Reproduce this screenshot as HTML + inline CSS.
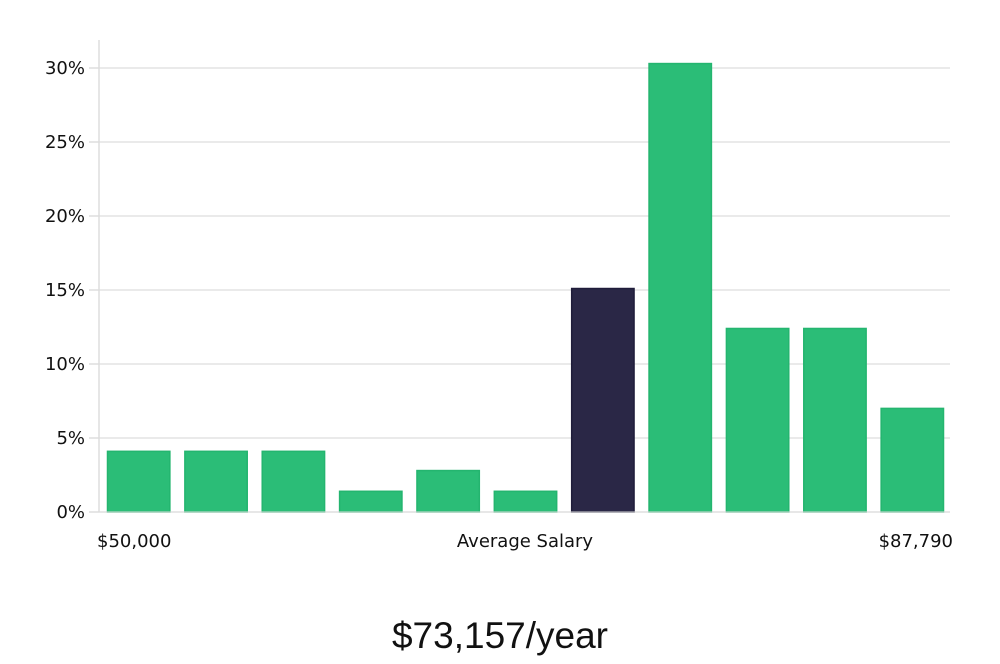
<!DOCTYPE html>
<html><head><meta charset="utf-8"><style>
body{margin:0;background:#fff;width:1000px;height:660px;overflow:hidden;font-family:"DejaVu Sans","Liberation Sans",sans-serif}
svg text{font-family:"DejaVu Sans","Liberation Sans",sans-serif;fill:#111}
</style></head><body>
<svg id="chart" width="1000" height="660" xmlns="http://www.w3.org/2000/svg"></svg>
<script>
const categories=["b1","b2","b3","b4","b5","b6","b7","b8","b9","b10","b11"];
const values=[4.1,4.1,4.1,1.4,2.8,1.4,15.1,30.3,12.4,12.4,7.0];
const highlight=[false,false,false,false,false,false,true,false,false,false,false];
const yTicks=[0,5,10,15,20,25,30];
const yTickLabels=["0%","5%","10%","15%","20%","25%","30%"];
const xLabels=["$50,000","Average Salary","$87,790"];
const title="$73,157/year";
const svg=document.getElementById('chart');
const NS="http://www.w3.org/2000/svg";
const L=99,R=950,B=512,T=68;
const y=v=>B-(v/30)*(B-T);
const band=(R-L)/categories.length;
const x=i=>L+i*band;
function mk(tag,attrs,parent){const e=document.createElementNS(NS,tag);for(const k in attrs)e.setAttribute(k,attrs[k]);(parent||svg).appendChild(e);return e;}
yTicks.forEach((t,i)=>{
 const g=mk('line',{x1:L,x2:R,y1:y(t),y2:y(t),stroke:'#e3e3e3','stroke-width':1.5});
 
 
 const tk=mk('line',{x1:89,x2:L,y1:y(t),y2:y(t),stroke:'#ddd','stroke-width':1.5});
 
 
 const tx=mk('text',{x:85,y:y(t)+6,'text-anchor':'end','font-size':18});
 tx.textContent=yTickLabels[i];
 
 
});
const ax=mk('line',{x1:L,x2:L,y1:40,y2:B,stroke:'#ddd','stroke-width':1.5});


values.forEach((v,i)=>{
 const hi=highlight[i];
 const r=mk('rect',{x:x(i)+8.5,y:y(v),width:band-15,height:B-y(v),fill:hi?'#2a2746':'#2bbd77',stroke:hi?'#1f1c3a':'#24b56f','stroke-width':1.5});
 
 
});
const xa=mk('line',{x1:L,x2:R,y1:B,y2:B,stroke:'#ddd','stroke-width':1});


[[97,'start'],[525,'middle'],[953,'end']].forEach((p,i)=>{
 const t=mk('text',{x:p[0],y:547,'text-anchor':p[1],'font-size':18});
 t.textContent=xLabels[i];
 
 
});
const tt=mk('text',{x:500,y:648,'text-anchor':'middle','font-size':37,'font-weight':300});
tt.setAttribute('style','font-family:"Liberation Sans",sans-serif;fill:#111');
tt.textContent=title;


</script>
</body></html>
